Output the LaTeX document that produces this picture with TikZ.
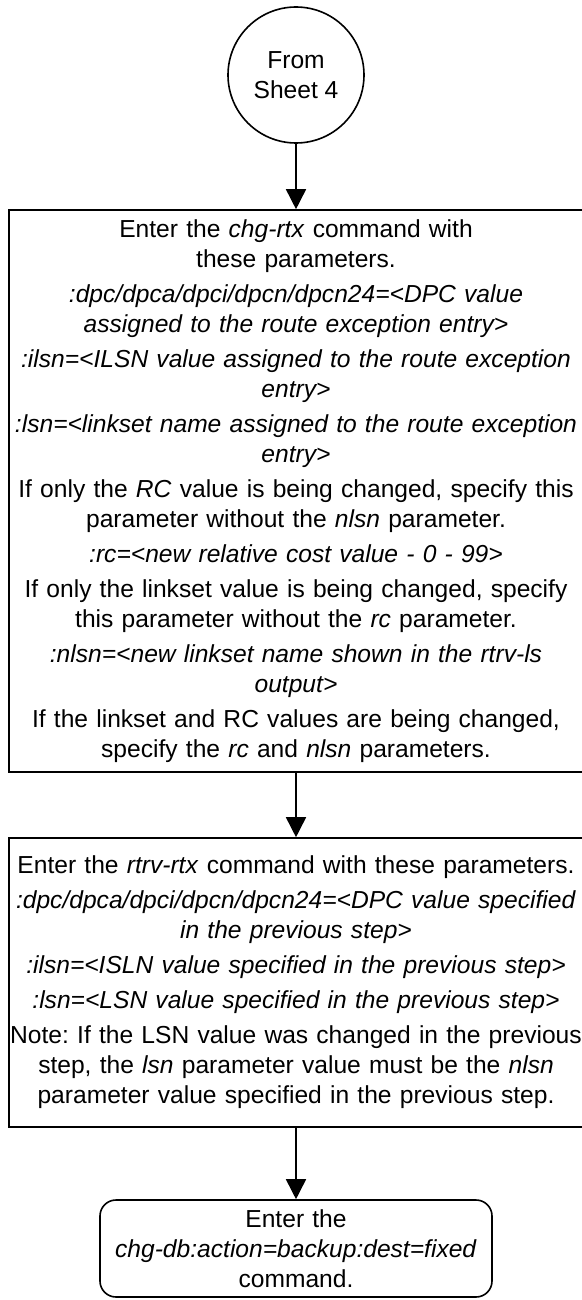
\documentclass[tikz,border=0pt]{standalone}
\usepackage{fontspec}
\setmainfont{Liberation Sans}
\usetikzlibrary{arrows.meta, positioning}

\begin{document}
\begin{tikzpicture}[
    x=0.5pt, y=-0.5pt,
    font=\fontsize{12.3}{15}\selectfont,
    conn/.style={draw, circle, line width=0.8pt, minimum size=68pt,
                 align=center, inner sep=0pt},
    stepbox/.style={draw, line width=0.8pt, align=center, inner sep=0pt,
                    text width=287pt, minimum width=287pt},
    endbox/.style={draw, line width=0.8pt, align=center, inner sep=0pt,
                   rounded corners=8pt, text width=196pt, minimum width=196pt},
    arr/.style={-{Triangle[length=10pt, width=10pt]}, line width=0.8pt}
]
\useasboundingbox (0,0) rectangle (582,1300);

\node[conn] (sheet) at (296,75) {From\\Sheet 4};

\node[stepbox, minimum height=281pt] (chgrtx) at (296,491)
  {Enter the \textit{chg-rtx} command with\\
   these parameters.\\[2.5pt]
   \textit{:dpc/dpca/dpci/dpcn/dpcn24=<DPC value}\\
   \textit{assigned to the route exception entry>}\\[2.5pt]
   \textit{:ilsn=<ILSN value assigned to the route exception}\\
   \textit{entry>}\\[2.5pt]
   \textit{:lsn=<linkset name assigned to the route exception}\\
   \textit{entry>}\\[2.5pt]
   If only the \textit{RC} value is being changed, specify this\\
   parameter without the \textit{nlsn} parameter.\\[2.5pt]
   \textit{:rc=<new relative cost value - 0 - 99>}\\[2.5pt]
   If only the linkset value is being changed, specify\\
   this parameter without the \textit{rc} parameter.\\[2.5pt]
   \textit{:nlsn=<new linkset name shown in the rtrv-ls}\\
   \textit{output>}\\[2.5pt]
   If the linkset and RC values are being changed,\\
   specify the \textit{rc} and \textit{nlsn} parameters.};

\node[stepbox, minimum height=144.5pt] (rtrvrtx) at (296,982.5)
  {Enter the \textit{rtrv-rtx} command with these parameters.\\[2.5pt]
   \textit{:dpc/dpca/dpci/dpcn/dpcn24=<DPC value specified}\\
   \textit{in the previous step>}\\[2.5pt]
   \textit{:ilsn=<ISLN value specified in the previous step>}\\[2.5pt]
   \textit{:lsn=<LSN value specified in the previous step>}\\[2.5pt]
   Note:\ If the LSN value was changed in the previous\\
   step, the \textit{lsn} parameter value must be the \textit{nlsn}\\
   parameter value specified in the previous step.};

\node[endbox, minimum height=48.5pt] (backup) at (296,1248.5)
  {Enter the\\
   \textit{chg-db:action=backup:dest=fixed}\\
   command.};

\draw[arr] (sheet) -- (chgrtx);
\draw[arr] (chgrtx) -- (rtrvrtx);
\draw[arr] (rtrvrtx) -- (backup);
\end{tikzpicture}
\end{document}
